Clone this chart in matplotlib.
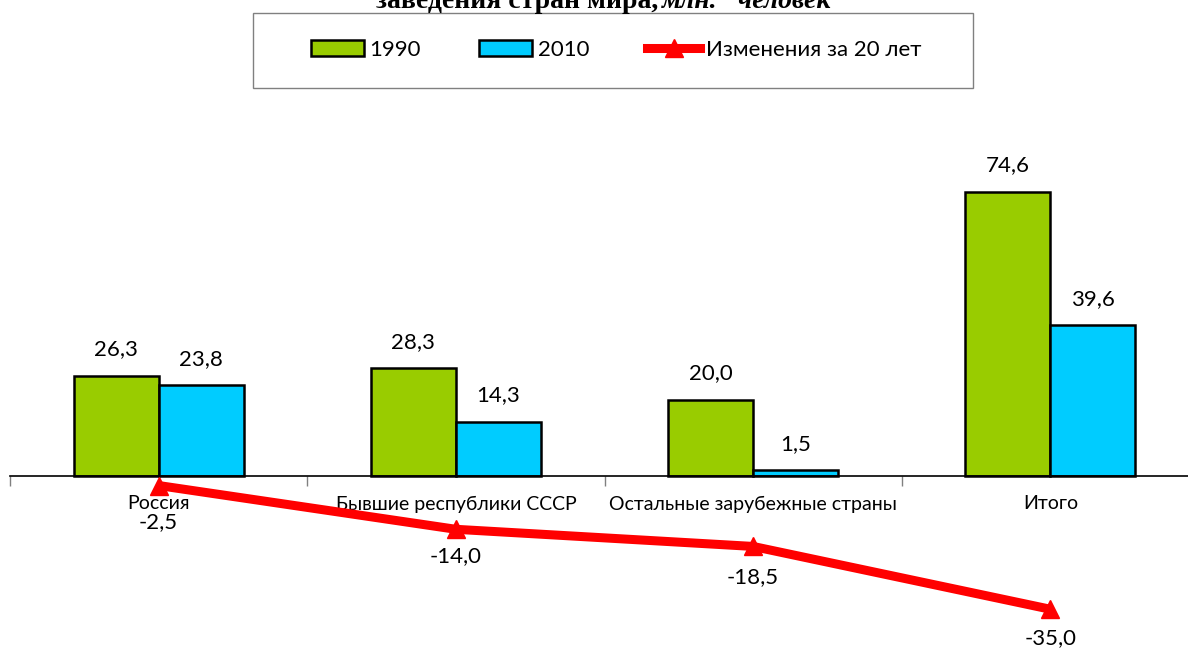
import numpy as np
import matplotlib.pyplot as plt
from matplotlib.lines import Line2D
from matplotlib.patches import Patch, Rectangle

categories = ["Россия", "Бывшие республики СССР", "Остальные зарубежные страны", "Итого"]
v1990 = [26.3, 28.3, 20.0, 74.6]
v2010 = [23.8, 14.3, 1.5, 39.6]
change = [-2.5, -14.0, -18.5, -35.0]

GREEN = "#99cc00"
BLUE = "#00ccff"
RED = "#ff0000"

plt.rcParams["font.family"] = ["Lato", "DejaVu Sans"]

fig = plt.figure(figsize=(11.88, 6.48), dpi=100)
W, H = 1188, 648
# axes spans x 10..1199 px, y-range -40..80 with zero at 476 px
ax = fig.add_axes([10 / W, (648 - 628.3) / H, 1189 / W, 456.9 / H])
ax.set_xlim(-0.5, 3.5)
ax.set_ylim(-40, 80)

x = np.arange(len(categories))
bw = 0.286
ax.bar(x - bw / 2, v1990, bw, color=GREEN, edgecolor="black", linewidth=1.8, zorder=2)
ax.bar(x + bw / 2, v2010, bw, color=BLUE, edgecolor="black", linewidth=1.8, zorder=2)
ax.plot(x, change, color=RED, lw=6.5, marker="^", ms=13, zorder=3, solid_capstyle="butt")

line_off = [-26.5, -19.5, -22, -21]
for i in range(len(categories)):
    ax.annotate(f"{v1990[i]:.1f}".replace(".", ","), (x[i] - bw / 2, v1990[i]),
                xytext=(0, 19), textcoords="offset points", ha="center", va="center", fontsize=16)
    ax.annotate(f"{v2010[i]:.1f}".replace(".", ","), (x[i] + bw / 2, v2010[i]),
                xytext=(0, 19), textcoords="offset points", ha="center", va="center", fontsize=16)
    ax.annotate(f"{change[i]:.1f}".replace(".", ","), (x[i], change[i]),
                xytext=(0, line_off[i]), textcoords="offset points", ha="center", va="center", fontsize=16)

for s in ["top", "right", "left"]:
    ax.spines[s].set_visible(False)
ax.spines["bottom"].set_position(("data", 0))
ax.spines["bottom"].set_linewidth(1.2)
ax.set_yticks([])
ax.set_xticks(x)
ax.set_xticklabels(categories, fontsize=14)
ax.tick_params(axis="x", length=0, pad=14)
ax.set_xticks(np.arange(-0.5, 4, 1), minor=True)
ax.tick_params(axis="x", which="minor", length=7, color="#808080", width=1)
ax.patch.set_alpha(0)

# partially visible title (cut off at the top, as in the source)
fig.text(658 / W, 1 - 8 / H, "заведения стран мира,", ha="right", va="baseline",
         fontsize=20, fontweight="bold", family="Liberation Serif")
fig.text(662 / W, 1 - 8 / H, "млн.   человек", ha="left", va="baseline",
         fontsize=20, fontweight="bold", style="italic", family="Liberation Serif")

# legend box
fig.patches.append(Rectangle((253 / W, 1 - 88 / H), 720 / W, 75 / H, transform=fig.transFigure,
                             facecolor="white", edgecolor="#808080", linewidth=1, zorder=0))
handles = [
    Patch(facecolor=GREEN, edgecolor="black", linewidth=1.8),
    Patch(facecolor=BLUE, edgecolor="black", linewidth=1.8),
    Line2D([], [], color=RED, lw=6.5, marker="^", ms=13),
]
leg = fig.legend(handles, ["1990", "2010", "Изменения за 20 лет"], ncol=3,
                 loc="center", bbox_to_anchor=(616 / W, 1 - 50 / H), fontsize=16,
                 frameon=False, handlelength=2.4, handleheight=0.75, handletextpad=0.25,
                 columnspacing=2.6, borderaxespad=0)

fig.savefig("out.png", dpi=100)
